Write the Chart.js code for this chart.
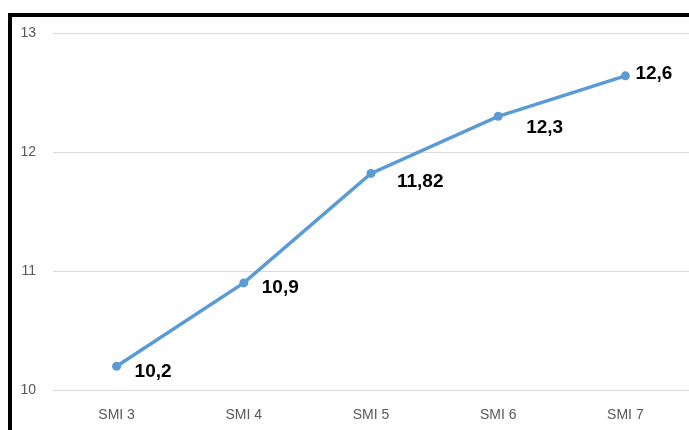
<!DOCTYPE html>
<html>
<head>
<meta charset="utf-8">
<script src="https://cdn.jsdelivr.net/npm/chart.js@4/dist/chart.umd.min.js"></script>
<style>
    html, body { margin: 0; padding: 0; background: #fff; }
    #wrap { position: relative; width: 689px; height: 430px; }
    #frame {
        position: absolute; left: 8px; top: 13px; right: 0; bottom: 0;
        border-top: 4px solid #000; border-left: 4px solid #000;
        pointer-events: none;
    }
</style>
</head>
<body>
<div id="wrap">
    <canvas id="smi_graph" width="689" height="430"></canvas>
    <div id="frame"></div>
</div>
<script>
const categories = ['SMI 3', 'SMI 4', 'SMI 5', 'SMI 6', 'SMI 7'];
const values = [10.2, 10.9, 11.82, 12.3, 12.64];
const valueLabels = ['10,2', '10,9', '11,82', '12,3', '12,6'];
const yTicks = [10, 11, 12, 13];

// where each value label sits relative to its point
const labelOffsets = [[18, 6], [18, 5], [26, 8], [28, 11], [10, -2]];

const valueLabelPlugin = {
    id: 'valueLabels',
    afterDatasetsDraw: function (chart) {
        const ctx = chart.ctx;
        const meta = chart.getDatasetMeta(0);
        ctx.save();
        ctx.font = 'bold 19px "Liberation Sans", Arial, sans-serif';
        ctx.fillStyle = '#000';
        ctx.textAlign = 'left';
        ctx.textBaseline = 'middle';
        meta.data.forEach(function (pt, i) {
            ctx.fillText(valueLabels[i], pt.x + labelOffsets[i][0], pt.y + labelOffsets[i][1]);
        });
        ctx.restore();
    }
};

new Chart(document.getElementById('smi_graph'), {
    type: 'line',
    data: {
        labels: categories,
        datasets: [{
            data: values,
            borderColor: '#5b9bd5',
            backgroundColor: '#5b9bd5',
            borderWidth: 3.5,
            pointRadius: 4.5,
            pointBorderWidth: 0,
            tension: 0,
        }]
    },
    options: {
        responsive: false,
        animation: false,
        layout: {
            autoPadding: false,
            padding: { top: 33, right: 0, left: 0, bottom: 0 }
        },
        plugins: {
            legend: { display: false },
            tooltip: { enabled: false }
        },
        scales: {
            y: {
                min: 10,
                max: 13,
                afterBuildTicks: function (scale) {
                    scale.ticks = yTicks.map(function (v) { return { value: v }; });
                },
                afterFit: function (scale) {
                    scale.width = 53;
                },
                border: { display: false },
                grid: {
                    color: '#d9d9d9',
                    lineWidth: 1,
                    drawTicks: false
                },
                ticks: {
                    padding: 17,
                    color: '#595959',
                    font: { size: 14, family: '"Liberation Sans", Arial, sans-serif' }
                }
            },
            x: {
                offset: true,
                afterFit: function (scale) {
                    scale.height = 40;
                    scale.paddingLeft = 0;
                    scale.paddingRight = 0;
                },
                border: { display: false },
                grid: { display: false },
                ticks: {
                    padding: 9,
                    color: '#595959',
                    font: { size: 14, family: '"Liberation Sans", Arial, sans-serif' }
                }
            }
        }
    },
    plugins: [valueLabelPlugin]
});
</script>
</body>
</html>
